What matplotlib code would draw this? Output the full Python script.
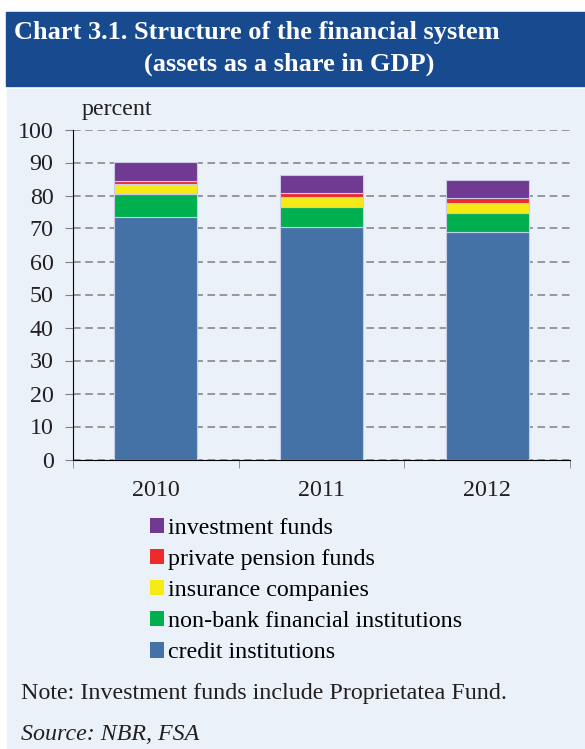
import numpy as np
import matplotlib.pyplot as plt
from matplotlib.patches import Rectangle, Patch

years = ['2010', '2011', '2012']
credit_institutions = [73.6, 70.5, 69.0]
nonbank_fin = [6.8, 5.9, 5.6]
insurance = [3.1, 3.1, 3.0]
pension_funds = [0.9, 1.3, 1.7]
investment_funds = [5.7, 5.5, 5.5]

series = [
    ('credit institutions', credit_institutions, '#4472a6'),
    ('non-bank financial institutions', nonbank_fin, '#00b04f'),
    ('insurance companies', insurance, '#f6ea14'),
    ('private pension funds', pension_funds, '#ee2a2a'),
    ('investment funds', investment_funds, '#703a93'),
]

plt.rcParams['font.family'] = ['Liberation Serif', 'DejaVu Serif']
FS = 17.3

fig = plt.figure(figsize=(5.85, 7.49), dpi=100)
fig.patch.set_facecolor('white')

# light panel and dark title band
fig.patches.append(Rectangle((7 / 585, 0), 1, (749 - 88.5) / 749,
                             transform=fig.transFigure, color='#eaf1f9', zorder=-10))
fig.patches.append(Rectangle((5.5 / 585, (749 - 85.7) / 749), 1, 73.4 / 749,
                             transform=fig.transFigure, color='#174a8f', zorder=-10))
fig.text(14 / 585, 1 - 33 / 749, 'Chart 3.1. Structure of the financial system',
         color='white', fontsize=19, fontweight='bold', va='center', ha='left')
fig.text(289 / 585, 1 - 64 / 749, '(assets as a share in GDP)',
         color='white', fontsize=19, fontweight='bold', va='center', ha='center')

ax = fig.add_axes([73 / 585, 1 - 459.5 / 749, 497 / 585, 330 / 749])
ax.set_facecolor('none')

x = np.arange(len(years))
bottom = np.zeros(len(years))
for name, vals, col in series:
    ax.bar(x, vals, width=0.5, bottom=bottom, color=col, label=name,
           edgecolor='#c9cbe9', linewidth=0.8, zorder=3)
    bottom += np.array(vals)

ax.set_xlim(-0.5, 2.5)
ax.set_ylim(0, 100)
ax.set_yticks(np.arange(0, 101, 10))
ax.yaxis.grid(True, linestyle=(0, (5, 3)), color='#7f7f85', linewidth=1.1, zorder=1)
ax.tick_params(axis='y', labelsize=FS, length=6, color='#7f7f85', pad=8, labelcolor='#231f20')
ax.set_xticks(x)
ax.set_xticklabels(years)
ax.tick_params(axis='x', length=0, labelsize=FS, pad=15, labelcolor='#231f20')
ax.set_xticks([-0.5, 0.5, 1.5, 2.5], minor=True)
ax.tick_params(axis='x', which='minor', length=6, color='#7f7f85')
for side in ['top', 'right']:
    ax.spines[side].set_visible(False)
ax.spines['left'].set_color('black')
ax.spines['bottom'].set_color('black')

fig.text(82 / 585, 1 - 110 / 749, 'percent', fontsize=FS, va='center', color='#231f20')

handles = [Patch(facecolor=col, label=name) for name, vals, col in series[::-1]]
fig.legend(handles=handles, loc='upper left', bbox_to_anchor=(140 / 585, 1 - 508 / 749),
           frameon=False, fontsize=FS, handlelength=0.6, handleheight=0.6,
           handletextpad=0.15, labelspacing=0.42, borderaxespad=0)

fig.text(21 / 585, 1 - 694 / 749, 'Note: Investment funds include Proprietatea Fund.',
         fontsize=FS, va='center', color='#231f20')
fig.text(21 / 585, 1 - 735 / 749, 'Source: NBR, FSA', fontsize=FS, va='center',
         style='italic', color='#231f20')

fig.savefig('out.png', dpi=100)
